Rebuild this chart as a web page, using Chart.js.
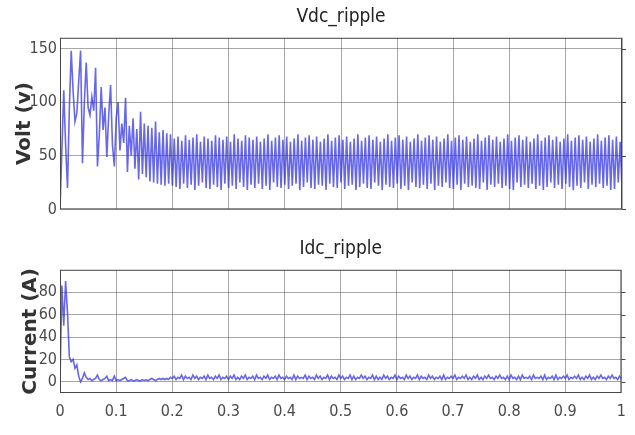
<!DOCTYPE html>
<html>
<head>
<meta charset="utf-8">
<script src="https://cdn.jsdelivr.net/npm/chart.js@4.4.1/dist/chart.umd.min.js"></script>
<style>
  html, body { margin: 0; padding: 0; background: #ffffff; }
  body { width: 635px; height: 435px; position: relative; overflow: hidden; }
  #wrapV { position: absolute; left: 0; top: 0; width: 635px; height: 222px; }
  #wrapI { position: absolute; left: 0; top: 230px; width: 635px; height: 205px; }
  canvas { display: block; }
</style>
</head>
<body>
<div id="wrapV"><canvas id="vdc" width="635" height="222"></canvas></div>
<div id="wrapI"><canvas id="idc" width="635" height="205"></canvas></div>
<script>
// Sampling interval of the recorded waveforms (seconds)
const sampleStep = 1 / 300;

// Time axis ticks (seconds)
const timeTicks = [0, 0.1, 0.2, 0.3, 0.4, 0.5, 0.6, 0.7, 0.8, 0.9, 1];

// DC-link voltage ripple (V)
const vdcTicks = [0, 50, 100, 150];
const vdcValues = [
  0, 55, 111, 60, 20, 95, 148, 110, 82, 90,
  120, 148, 43, 100, 137, 95, 88, 105, 92, 132,
  40, 70, 114, 74, 95, 49, 88, 116, 60, 40,
  85, 100, 55, 80, 62, 104, 35, 78, 50, 85,
  38, 75, 28, 91, 33, 80, 30, 78, 26, 76,
  25, 82, 24, 72, 23, 74, 22, 71, 24, 70,
  22,
  66, 21, 68, 19, 64, 24, 69, 20, 65, 23,
  67, 18, 70, 22, 63, 25, 68, 20, 66, 19,
  64, 23, 69, 21, 67, 18, 65, 24, 68, 20,
  63, 22, 70, 19, 66, 25, 64, 21, 69, 18,
  67, 23, 65, 20, 68, 24, 63, 19, 66, 22,
  70, 18, 64, 25, 67, 21, 69, 20, 65, 23,
  68, 19, 63, 22, 66, 24, 70, 18, 64, 21,
  67, 25, 69, 20, 65, 19, 68, 23, 63, 22,
  66, 18, 70, 24, 64, 21, 67, 20, 69, 25,
  65, 19, 68, 22, 63, 23, 66, 18, 70, 21,
  64, 24, 67, 20, 69, 19, 65, 25, 68, 22,
  63, 18, 66, 23, 70, 21, 64, 20, 67, 24,
  69, 19, 65, 22, 68, 18, 63, 25, 66, 21,
  70, 20, 64, 23, 67, 19, 69, 24, 65, 18,
  68, 22, 63, 21, 66, 25, 70, 20, 64, 19,
  67, 23, 69, 18, 65, 24, 68, 21, 63, 22,
  66, 20, 70, 19, 64, 25, 67, 18, 69, 23,
  65, 21, 68, 24, 63, 20, 66, 22, 70, 19,
  64, 18, 67, 25, 69, 21, 65, 23, 68, 20,
  63, 24, 66, 19, 70, 22, 64, 18, 67, 21,
  69, 25, 65, 20, 68, 23, 63, 19, 66, 24,
  70, 21, 64, 18, 67, 22, 69, 20, 65, 25,
  68, 19, 63, 23, 66, 21, 70, 24, 64, 20,
  67, 22, 69, 18, 65, 19, 68, 25, 63, 21
];

// DC current ripple (A)
const idcTicks = [0, 20, 40, 60, 80];
const idcValues = [
  0, 86, 50, 90, 62, 22, 18, 20, 12, 15,
  5, 0, 3, 8, 4, 2, 3, 1, 2, 3,
  6, 2, 1, 2, 3, 5, 1, 2, 1, 5,
  1, 2, 1, 2, 3, 4, 1, 1, 2, 1,
  1, 2, 1, 1, 2, 1, 2, 1, 2, 3,
  2, 1, 2, 3, 2, 3, 2, 3, 2, 4,
  3,
  5, 2, 4, 3, 6, 2, 5, 3, 4, 2,
  6, 3, 5, 2, 4, 3, 5, 2, 6, 3,
  4, 2, 5, 3, 6, 2, 4, 3, 5, 2,
  5, 3, 6, 2, 4, 2, 5, 3, 6, 2,
  4, 3, 5, 2, 6, 3, 4, 2, 5, 3,
  6, 2, 4, 3, 5, 2, 6, 3, 4, 2,
  5, 3, 4, 2, 6, 2, 5, 3, 4, 3,
  6, 2, 5, 3, 4, 2, 6, 3, 5, 2,
  4, 3, 6, 2, 5, 3, 4, 2, 6, 3,
  5, 2, 4, 3, 6, 2, 5, 2, 4, 3,
  6, 3, 5, 2, 4, 3, 6, 2, 5, 2,
  4, 2, 6, 3, 5, 2, 4, 3, 6, 2,
  5, 3, 4, 2, 6, 3, 5, 2, 4, 3,
  6, 2, 5, 3, 4, 2, 6, 3, 5, 2,
  4, 3, 5, 2, 6, 2, 4, 3, 5, 3,
  6, 2, 4, 3, 5, 3, 6, 2, 4, 2,
  5, 3, 6, 2, 4, 2, 5, 3, 6, 3,
  4, 2, 5, 3, 6, 3, 4, 2, 5, 2,
  6, 3, 4, 2, 5, 2, 6, 3, 4, 3,
  5, 2, 6, 3, 4, 3, 5, 2, 6, 2,
  4, 3, 5, 2, 6, 2, 4, 3, 5, 3,
  6, 2, 4, 3, 5, 3, 6, 2, 4, 2,
  5, 3, 6, 2, 4, 2, 5, 3, 6, 3,
  4, 2, 5, 3, 6, 3, 4, 2, 5, 3
];

const tickFamily = "'Liberation Sans Narrow', 'DejaVu Sans Condensed', 'Liberation Sans', sans-serif";
const labelFamily = "'DejaVu Sans', 'Liberation Sans', sans-serif";
const gridColor = 'rgba(95, 95, 95, 0.55)';
const traceColor = 'rgba(45, 45, 225, 0.72)';

// Box around the plot area plus short outer marks at the y ticks on the right edge
const framePlugin = {
  id: 'axesFrame',
  afterDraw(chart) {
    const { ctx, chartArea: a } = chart;
    ctx.save();
    ctx.strokeStyle = '#474747';
    ctx.lineWidth = 1;
    ctx.strokeRect(a.left + 0.5, a.top + 0.5, a.right - a.left - 1, a.bottom - a.top - 1);
    const ys = chart.scales.y;
    ys.ticks.forEach(t => {
      const py = Math.round(ys.getPixelForValue(t.value)) + 0.5;
      ctx.beginPath();
      ctx.moveTo(a.right, py);
      ctx.lineTo(a.right + 4, py);
      ctx.stroke();
    });
    ctx.restore();
  }
};

function toPoints(values) {
  return values.map((v, i) => ({ x: i * sampleStep, y: v }));
}

function makePanel(canvasId, cfg) {
  return new Chart(document.getElementById(canvasId), {
    type: 'line',
    data: {
      datasets: [{
        data: toPoints(cfg.values),
        borderColor: traceColor,
        borderWidth: 1.6,
        borderJoinStyle: 'miter',
        pointRadius: 0,
        tension: 0,
        fill: false
      }]
    },
    options: {
      responsive: false,
      animation: false,
      devicePixelRatio: 1,
      layout: { padding: { left: 0, right: 13, top: 0, bottom: 0 } },
      plugins: {
        legend: { display: false },
        tooltip: { enabled: false },
        title: {
          display: true,
          text: cfg.title,
          fullSize: false,
          color: '#222',
          font: { family: tickFamily, size: 19, weight: 'normal', lineHeight: 1.2 },
          padding: cfg.titlePadding
        }
      },
      scales: {
        x: {
          type: 'linear',
          min: 0,
          max: 1,
          afterBuildTicks: s => { s.ticks = timeTicks.map(v => ({ value: v })); },
          afterFit: s => { s.height = cfg.xAxisHeight; },
          grid: { color: gridColor, drawTicks: false, lineWidth: 1 },
          border: { display: false },
          ticks: {
            display: cfg.showTimeLabels,
            padding: 9,
            color: '#4a4a4a',
            maxRotation: 0,
            autoSkip: false,
            font: { family: tickFamily, size: 16 },
            callback: v => String(Math.round(v * 10) / 10)
          }
        },
        y: {
          type: 'linear',
          min: cfg.yMin,
          max: cfg.yMax,
          afterBuildTicks: s => { s.ticks = cfg.yTicks.map(v => ({ value: v })); },
          afterFit: s => { s.width = 60; },
          grid: { color: gridColor, drawTicks: false, lineWidth: 1 },
          border: { display: false },
          ticks: {
            padding: 3,
            color: '#4a4a4a',
            autoSkip: false,
            font: { family: tickFamily, size: 16 },
            callback: v => String(v)
          },
          title: {
            display: true,
            text: cfg.yLabel,
            color: '#333',
            font: { family: labelFamily, size: 20, weight: 'bold', lineHeight: 1.2 },
            padding: { top: cfg.yLabelOffset, bottom: 0 }
          }
        }
      }
    },
    plugins: [framePlugin]
  });
}

makePanel('vdc', {
  title: 'Vdc_ripple',
  titlePadding: { top: 6, bottom: 9 },
  values: vdcValues,
  yTicks: vdcTicks,
  yMin: 0,
  yMax: 160,
  yLabel: 'Volt (v)',
  yLabelOffset: 13,
  xAxisHeight: 12,
  showTimeLabels: false
});

makePanel('idc', {
  title: 'Idc_ripple',
  titlePadding: { top: 8, bottom: 9 },
  values: idcValues,
  yTicks: idcTicks,
  yMin: -10,
  yMax: 100,
  yLabel: 'Current (A)',
  yLabelOffset: 19,
  xAxisHeight: 42,
  showTimeLabels: true
});
</script>
</body>
</html>
